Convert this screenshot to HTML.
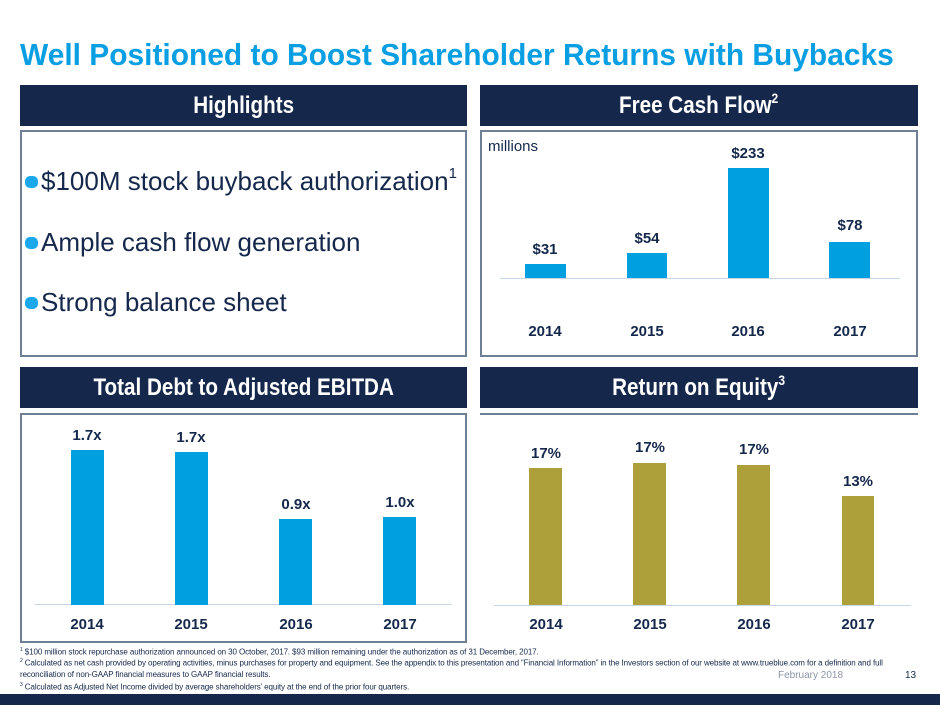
<!DOCTYPE html>
<html><head><meta charset="utf-8"><style>
*{margin:0;padding:0;box-sizing:border-box}
body{width:940px;height:705px;background:#fff;position:relative;overflow:hidden;font-family:"Liberation Sans",Arial,sans-serif}
.a{position:absolute}
.hdr{position:absolute;background:#15284b;color:#fff;font-weight:bold;font-size:24px;text-align:center;line-height:41px;height:41px;white-space:nowrap}
.hdr span{display:inline-block;transform:scaleX(0.86)}
.hdr sup{font-size:14px;line-height:0;vertical-align:10px}
.box{position:absolute;border:2px solid #6f7f96}
.bar{position:absolute}
.lbl{position:absolute;font-weight:bold;color:#15284b;font-size:15px;text-align:center;width:60px}
.yr{position:absolute;font-weight:bold;color:#15284b;font-size:15px;text-align:center;width:60px}
.li{position:absolute;left:25px;font-size:26px;color:#15284b;white-space:nowrap}
.li sup{font-size:15px;line-height:0;vertical-align:12px}
.dot{display:inline-block;width:13px;height:12px;background:#1aa7ec;border-radius:5px;margin-right:3px;vertical-align:2px}
.fn{position:absolute;left:20px;font-size:8px;color:#15284b;white-space:nowrap;letter-spacing:-0.1px}
</style></head><body>
<div class="a" style="left:20px;top:37px;font-size:31px;font-weight:bold;color:#0a9ee3;white-space:nowrap;transform:scaleX(0.965);transform-origin:left">Well Positioned to Boost Shareholder Returns with Buybacks</div>

<div class="hdr" style="left:20px;top:85px;width:447px"><span>Highlights</span></div>
<div class="hdr" style="left:480px;top:85px;width:438px"><span>Free Cash Flow<sup>2</sup></span></div>
<div class="hdr" style="left:20px;top:367px;width:447px"><span>Total Debt to Adjusted EBITDA</span></div>
<div class="hdr" style="left:480px;top:367px;width:438px"><span>Return on Equity<sup>3</sup></span></div>

<div class="box" style="left:20px;top:130px;width:447px;height:227px"></div>
<div class="box" style="left:480px;top:130px;width:438px;height:227px"></div>
<div class="box" style="left:20px;top:413px;width:447px;height:230px"></div>
<div class="a" style="left:480px;top:413px;width:438px;height:2px;background:#6f7f96"></div>

<div class="li" style="top:166px"><span class="dot"></span>$100M stock buyback authorization<sup>1</sup></div>
<div class="li" style="top:227px"><span class="dot"></span>Ample cash flow generation</div>
<div class="li" style="top:287px"><span class="dot"></span>Strong balance sheet</div>

<!-- FCF -->
<div class="a" style="left:488px;top:138px;font-size:15px;color:#15284b">millions</div>
<div class="a" style="left:500px;top:278px;width:400px;height:1px;background:#c8d6ea"></div>
<div class="bar" style="left:525px;top:264px;width:41px;height:14px;background:#009fe0"></div>
<div class="bar" style="left:627px;top:253px;width:40px;height:25px;background:#009fe0"></div>
<div class="bar" style="left:728px;top:168px;width:41px;height:110px;background:#009fe0"></div>
<div class="bar" style="left:829px;top:242px;width:41px;height:36px;background:#009fe0"></div>
<div class="lbl" style="left:515px;top:241px">$31</div>
<div class="lbl" style="left:617px;top:230px">$54</div>
<div class="lbl" style="left:718px;top:145px">$233</div>
<div class="lbl" style="left:820px;top:217px">$78</div>
<div class="yr" style="left:515px;top:323px">2014</div>
<div class="yr" style="left:617px;top:323px">2015</div>
<div class="yr" style="left:718px;top:323px">2016</div>
<div class="yr" style="left:820px;top:323px">2017</div>

<!-- EBITDA -->
<div class="a" style="left:35px;top:604px;width:417px;height:1px;background:#c8d6ea"></div>
<div class="bar" style="left:71px;top:450px;width:33px;height:155px;background:#009fe0"></div>
<div class="bar" style="left:175px;top:452px;width:33px;height:153px;background:#009fe0"></div>
<div class="bar" style="left:279px;top:519px;width:33px;height:86px;background:#009fe0"></div>
<div class="bar" style="left:383px;top:517px;width:33px;height:88px;background:#009fe0"></div>
<div class="lbl" style="left:57px;top:427px">1.7x</div>
<div class="lbl" style="left:161px;top:429px">1.7x</div>
<div class="lbl" style="left:266px;top:496px">0.9x</div>
<div class="lbl" style="left:370px;top:494px">1.0x</div>
<div class="yr" style="left:57px;top:616px">2014</div>
<div class="yr" style="left:161px;top:616px">2015</div>
<div class="yr" style="left:266px;top:616px">2016</div>
<div class="yr" style="left:370px;top:616px">2017</div>

<!-- ROE -->
<div class="a" style="left:494px;top:605px;width:417px;height:1px;background:#c8d6ea"></div>
<div class="bar" style="left:529px;top:468px;width:33px;height:137px;background:#ada03a"></div>
<div class="bar" style="left:633px;top:463px;width:33px;height:142px;background:#ada03a"></div>
<div class="bar" style="left:737px;top:465px;width:33px;height:140px;background:#ada03a"></div>
<div class="bar" style="left:842px;top:496px;width:32px;height:109px;background:#ada03a"></div>
<div class="lbl" style="left:516px;top:445px">17%</div>
<div class="lbl" style="left:620px;top:439px">17%</div>
<div class="lbl" style="left:724px;top:441px">17%</div>
<div class="lbl" style="left:828px;top:473px">13%</div>
<div class="yr" style="left:516px;top:616px">2014</div>
<div class="yr" style="left:620px;top:616px">2015</div>
<div class="yr" style="left:724px;top:616px">2016</div>
<div class="yr" style="left:828px;top:616px">2017</div>

<!-- footnotes -->
<div class="fn" style="top:647px"><sup style="font-size:5px">1</sup> $100 million stock repurchase authorization announced on 30 October, 2017. $93 million remaining under the authorization as of 31 December, 2017.</div>
<div class="fn" style="top:658px"><sup style="font-size:5px">2</sup> Calculated as net cash provided by operating activities, minus purchases for property and equipment. See the appendix to this presentation and “Financial Information” in the Investors section of our website at www.trueblue.com for a definition and full</div>
<div class="fn" style="top:670px">reconciliation of non-GAAP financial measures to GAAP financial results.</div>
<div class="fn" style="top:682px"><sup style="font-size:5px">3</sup> Calculated as Adjusted Net Income divided by average shareholders’ equity at the end of the prior four quarters.</div>
<div class="a" style="left:778px;top:670px;font-size:10px;color:#8a94a6">February 2018</div>
<div class="a" style="left:905px;top:670px;font-size:10px;color:#15284b">13</div>
<div class="a" style="left:0;top:694px;width:940px;height:11px;background:#15284b"></div>
</body></html>
